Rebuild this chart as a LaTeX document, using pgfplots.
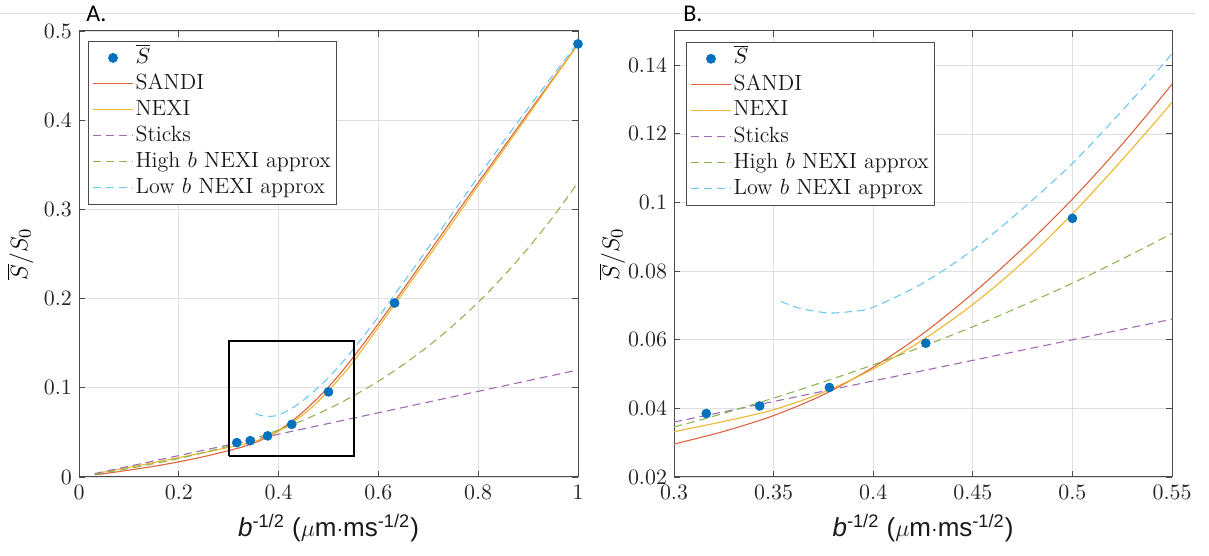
\documentclass[border=0pt]{standalone}
\usepackage{fontspec}
\usepackage{pgfplots}
\usepackage{pgfplotstable}
\pgfplotsset{compat=1.18}
\newfontfamily\arialfont{Liberation Sans}
\newfontfamily\calfont{Carlito}

\definecolor{blueM}{HTML}{0072BD}
\definecolor{redM}{HTML}{DC6540}
\definecolor{yelM}{HTML}{EDB72E}
\definecolor{purM}{HTML}{A06AB0}
\definecolor{grnM}{HTML}{8DB552}
\definecolor{cyaM}{HTML}{6CC8F0}

\pgfplotstableread{
x y
0.3162 0.0385
0.3430 0.0407
0.3780 0.0461
0.4264 0.0590
0.5000 0.0954
0.6325 0.1950
1.0000 0.4855
}\sbar

\pgfplotstableread{
x y
0.0316 0.0024
0.05 0.0037
0.1 0.0077
0.15 0.0120
0.2 0.0170
0.25 0.0228
0.275 0.0261
0.3 0.0296
0.325 0.0333
0.35 0.0379
0.375 0.0440
0.4 0.0520
0.425 0.0618
0.45 0.0735
0.475 0.0866
0.5 0.1010
0.525 0.1170
0.55 0.1345
0.575 0.1530
0.6 0.1720
0.632 0.1965
0.65 0.2105
0.7 0.2505
0.75 0.2905
0.8 0.3300
0.85 0.3690
0.9 0.4080
0.95 0.4465
1.0 0.4850
}\sandi

\pgfplotstableread{
x y
0.0316 0.0036
0.1 0.0108
0.15 0.0162
0.2 0.0217
0.25 0.0273
0.275 0.0302
0.3 0.0332
0.325 0.0362
0.35 0.0396
0.375 0.0447
0.4 0.0515
0.425 0.0600
0.45 0.0703
0.475 0.0825
0.5 0.0967
0.525 0.1125
0.55 0.1293
0.575 0.1485
0.6 0.1680
0.632 0.1930
0.65 0.2070
0.7 0.2465
0.75 0.2865
0.8 0.3265
0.85 0.3660
0.9 0.4055
0.95 0.4453
1.0 0.4850
}\nexi

\pgfplotstableread{
x y
0.0316 0.0038
0.3 0.0360
0.55 0.0660
1.0 0.1200
}\sticks

\pgfplotstableread{
x y
0.0316 0.0030
0.1 0.0096
0.2 0.0207
0.3 0.0346
0.35 0.0430
0.4 0.0527
0.45 0.0638
0.5 0.0765
0.55 0.0910
0.6 0.1074
0.65 0.1260
0.7 0.1467
0.75 0.1700
0.8 0.1960
0.85 0.2248
0.9 0.2566
0.95 0.2916
1.0 0.3300
}\highb

\pgfplotstableread{
x y
0.3537 0.0712
0.36 0.0697
0.367 0.0687
0.378 0.0678
0.39 0.0683
0.4 0.0695
0.425 0.0765
0.45 0.0862
0.475 0.0982
0.5 0.1114
0.525 0.1268
0.55 0.1434
0.6 0.1795
0.632 0.2040
0.7 0.2570
0.75 0.2970
0.8 0.3365
0.85 0.3755
0.9 0.4135
0.95 0.4505
1.0 0.4870
}\lowb

\pgfplotsset{
  panel/.style={
    scale only axis,
    anchor=south west,
    axis line style={black!70, line width=0.5pt},
    tick style={black!70, line width=0.45pt},
    major tick length=3pt,
    tick align=inside,
    xtick pos=both, ytick pos=both,
    grid=major,
    major grid style={black!12, line width=0.4pt},
    ticklabel style={font=\fontsize{11}{13}\selectfont, text=black!85},
    xticklabel style={yshift=-0.5pt},
    /pgf/number format/fixed,
    /pgf/number format/precision=2,
    legend cell align={left},
    legend style={draw=black!70, line width=0.5pt, fill=white,
      font=\fontsize{11}{13}\selectfont, text=black!90,
      inner xsep=2pt, inner ysep=1.8pt, row sep=0pt,
      nodes={inner sep=1pt, text height=8.1pt, text depth=2.9pt}},
    xlabel={{\arialfont\fontsize{13}{15}\selectfont\textit{b}\textsuperscript{-1/2} ($\mu$m$\cdot$ms\textsuperscript{-1/2})}},
    ylabel={\fontsize{13}{15}\selectfont$\overline{S}/S_0$},
    xlabel style={at={(axis description cs:0.5,-0.114)}, anchor=center, text=black!90},
  },
  lineimg/.style={legend image code/.code={\draw[##1] (0pt,0pt) -- (20pt,0pt);}},
  dotimg/.style={legend image code/.code={\draw[mark repeat=2,mark phase=2,##1] plot coordinates {(0pt,0pt) (10pt,0pt) (20pt,0pt)};}},
  dots/.style={only marks, mark=*, mark size=2.2pt, color=blueM, mark options={fill=blueM, draw=blueM}, dotimg},
  sandiS/.style={redM, line width=0.55pt, smooth, lineimg},
  nexiS/.style={yelM, line width=0.55pt, smooth, lineimg},
  sticksS/.style={purM, line width=0.55pt, dash pattern=on 4pt off 2.5pt, lineimg},
  highS/.style={grnM, line width=0.55pt, smooth, dash pattern=on 4pt off 2.5pt, lineimg},
  lowS/.style={cyaM, line width=0.55pt, smooth, dash pattern=on 4pt off 2.5pt, lineimg},
}

\begin{document}
\begin{tikzpicture}
\useasboundingbox (0,0) rectangle (604.5pt,278pt);
\draw[black!12, line width=0.5pt] (0pt,271pt) -- (597.5pt,271pt);
\node[anchor=base west, font=\calfont\fontsize{12}{14}\selectfont, inner sep=0pt] at (43pt,267pt) {A.};
\node[anchor=base west, font=\calfont\fontsize{12}{14}\selectfont, inner sep=0pt] at (341.5pt,267pt) {B.};

\begin{axis}[panel,
  at={(39.5pt,39.5pt)}, width=249.5pt, height=223pt,
  xmin=0, xmax=1, ymin=0, ymax=0.5,
  xtick={0,0.2,0.4,0.6,0.8,1},
  ytick={0,0.1,0.2,0.3,0.4,0.5},
  ylabel style={at={(axis description cs:-0.118,0.5)}, anchor=center},
  legend style={at={(0.018,0.978)}, anchor=north west},
]
\addplot[dots] table {\sbar};
\addlegendentry{$\overline{S}$}
\addplot[sandiS] table {\sandi};
\addlegendentry{SANDI}
\addplot[nexiS] table {\nexi};
\addlegendentry{NEXI}
\addplot[sticksS] table {\sticks};
\addlegendentry{Sticks}
\addplot[highS] table {\highb};
\addlegendentry{High $b$ NEXI approx}
\addplot[lowS] table {\lowb};
\addlegendentry{Low $b$ NEXI approx}
\addplot[black, line width=1pt, forget plot] coordinates {(0.301,0.023) (0.552,0.023) (0.552,0.153) (0.301,0.153) (0.301,0.023)};
\end{axis}

\begin{axis}[panel,
  at={(337pt,39.5pt)}, width=249pt, height=223pt,
  xmin=0.3, xmax=0.55, ymin=0.02, ymax=0.15,
  xtick={0.3,0.35,0.4,0.45,0.5,0.55},
  ytick={0.02,0.04,0.06,0.08,0.1,0.12,0.14},
  ylabel style={at={(axis description cs:-0.1245,0.5)}, anchor=center},
  legend style={at={(0.024,0.976)}, anchor=north west},
]
\addplot[dots] table {\sbar};
\addlegendentry{$\overline{S}$}
\addplot[sandiS] table {\sandi};
\addlegendentry{SANDI}
\addplot[nexiS] table {\nexi};
\addlegendentry{NEXI}
\addplot[sticksS] table {\sticks};
\addlegendentry{Sticks}
\addplot[highS] table {\highb};
\addlegendentry{High $b$ NEXI approx}
\addplot[lowS] table {\lowb};
\addlegendentry{Low $b$ NEXI approx}
\end{axis}
\end{tikzpicture}
\end{document}
